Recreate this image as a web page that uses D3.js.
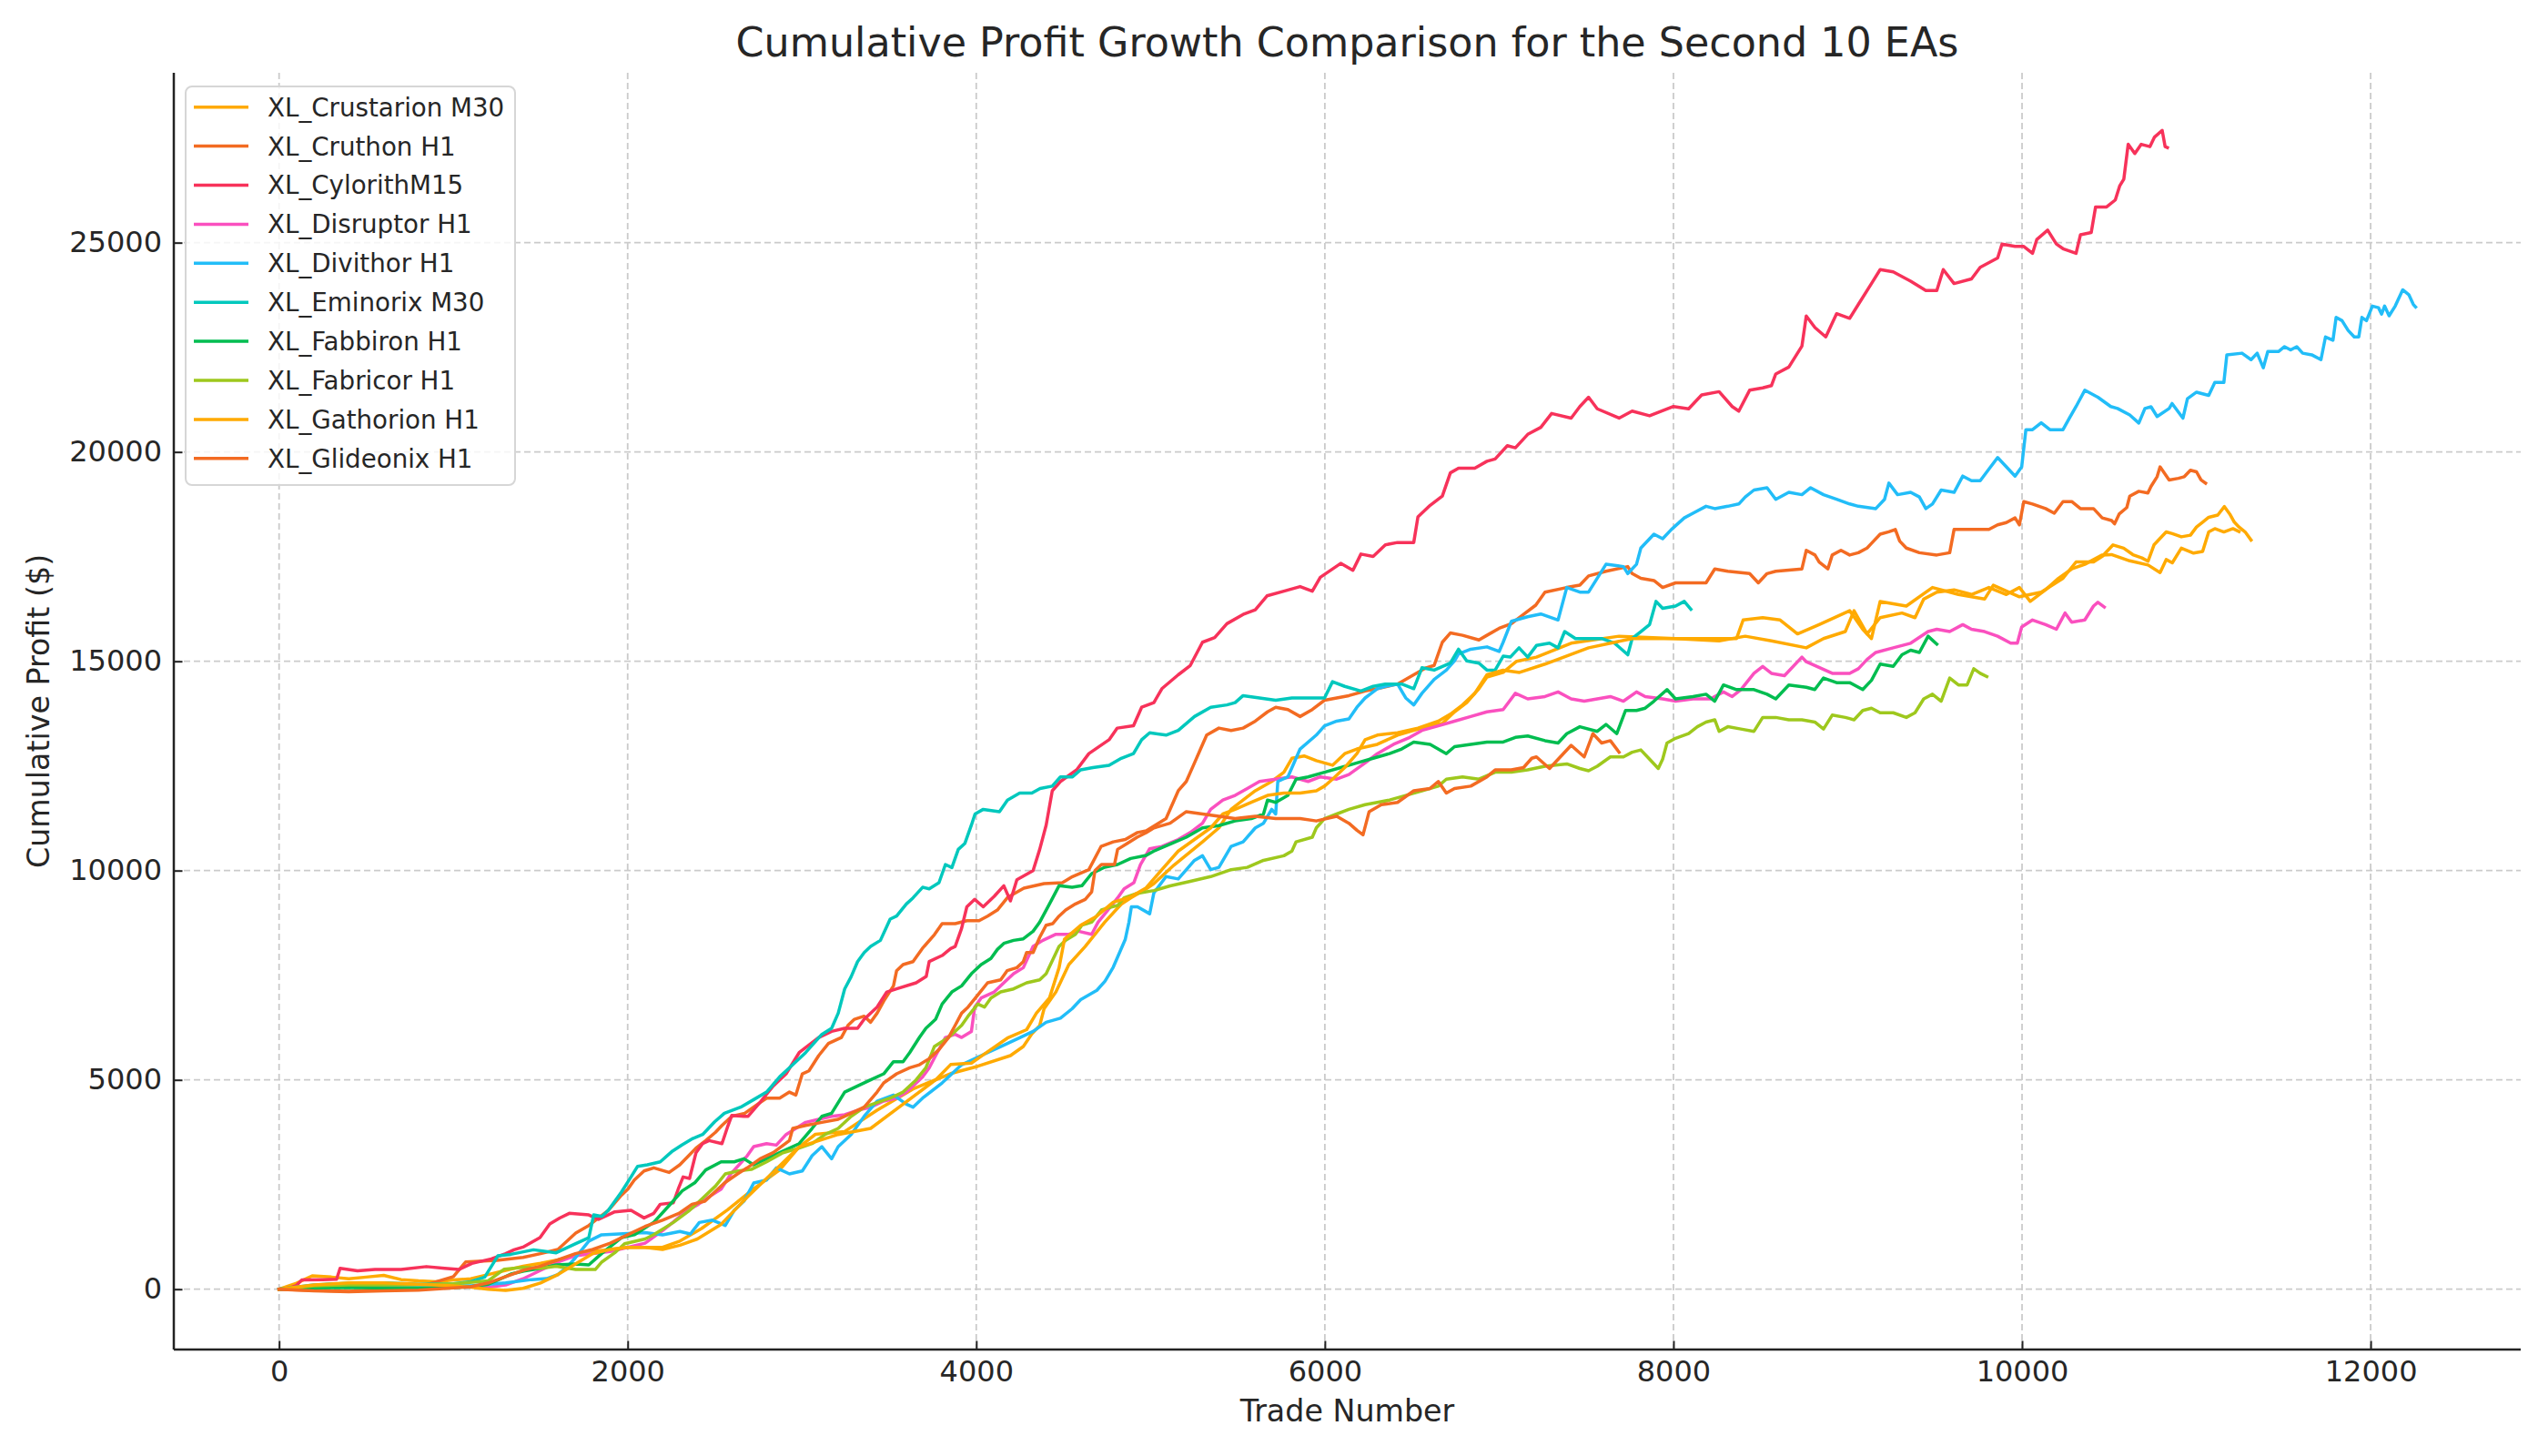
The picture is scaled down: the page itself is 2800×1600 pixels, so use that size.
<!DOCTYPE html>
<html><head><meta charset="utf-8">
<script src="https://cdn.jsdelivr.net/npm/d3@7"></script>
<style>html,body{margin:0;padding:0;background:#fff;} svg{display:block;font-family:"DejaVu Sans",sans-serif;}</style>
</head><body><svg id="chart" width="2800" height="1600"></svg>
<script>
const seriesNames = ["XL_Crustarion M30","XL_Cruthon H1","XL_CylorithM15","XL_Disruptor H1","XL_Divithor H1","XL_Eminorix M30","XL_Fabbiron H1","XL_Fabricor H1","XL_Gathorion H1","XL_Glideonix H1"];
const xTicks = [0,2000,4000,6000,8000,10000,12000];
const yTicks = [0,5000,10000,15000,20000,25000];

// [trade number, cumulative profit]
const crustarion = [[0,0],[100,145],[190,320],[300,290],[400,250],[500,290],[600,330],[700,230],[800,200],[900,180],[1000,220],[1100,250],[1200,350],[1300,450],[1400,550],[1500,620],[1600,700],[1700,800],[1800,900],[1900,950],[2000,1000],[2100,1000],[2200,1000],[2300,1150],[2424,1450],[2574,1900],[2723,2400],[2872,2850],[2984,3400],[3077,3700],[3245,3768],[3431,4275],[3637,4783],[3853,5150],[4009,5326],[4196,5580],[4270,5797],[4319,6100],[4364,6300],[4389,6700],[4457,7100],[4531,7754],[4625,8188],[4737,8768],[4832,9200],[4886,9348],[4975,9565],[5019,9690],[5135,10133],[5298,10687],[5392,11020],[5462,11463],[5531,11685],[5601,11907],[5695,12129],[5765,12350],[5811,12683],[5881,12739],[5951,12627],[6044,12517],[6114,12794],[6184,12905],[6301,13016],[6417,13237],[6510,13348],[6604,13459],[6674,13514],[6744,13792],[6814,14013],[6884,14346],[6930,14623],[7023,14734],[7100,15000],[7214,15100],[7413,15432],[7688,15599],[8012,15543],[8362,15543],[8400,15987],[8512,16042],[8612,15987],[8712,15654],[8836,15876],[9011,16208],[9086,15765],[9136,15543],[9186,16430],[9336,16319],[9486,16763],[9635,16596],[9785,16486],[9835,16818],[9985,16541],[10110,16652],[10235,16984],[10310,17373],[10410,17373],[10461,17508],[10522,17780],[10583,17702],[10636,17547],[10688,17469],[10723,17391],[10757,17780],[10827,18090],[10862,18051],[10914,17974],[10966,18012],[11001,18207],[11036,18323],[11071,18439],[11123,18494],[11161,18696],[11192,18517],[11218,18323],[11245,18207],[11280,18090],[11314,17896]];

const cruthon = [[0,0],[200,-30],[400,-50],[600,0],[800,50],[1000,300],[1070,650],[1250,690],[1400,760],[1500,850],[1600,950],[1702,1340],[1777,1522],[1889,1884],[1964,2246],[2001,2391],[2038,2609],[2094,2826],[2150,2899],[2238,2790],[2299,2971],[2392,3370],[2448,3551],[2504,3750],[2541,3913],[2597,4130],[2672,4203],[2746,4420],[2797,4565],[2872,4565],[2928,4710],[2965,4638],[3002,5145],[3040,5217],[3096,5580],[3152,5870],[3226,6014],[3264,6304],[3301,6449],[3357,6522],[3394,6377],[3431,6594],[3469,6884],[3525,7246],[3543,7609],[3580,7754],[3637,7826],[3690,8137],[3760,8470],[3804,8732],[3879,8732],[3946,8803],[4016,8803],[4065,8913],[4121,9058],[4179,9357],[4273,9579],[4389,9689],[4494,9710],[4552,9856],[4646,10022],[4716,10576],[4786,10687],[4855,10743],[4925,10909],[4975,10950],[5089,11242],[5159,11907],[5205,12129],[5252,12572],[5287,12905],[5322,13237],[5392,13404],[5462,13348],[5531,13404],[5601,13570],[5671,13792],[5718,13902],[5788,13847],[5858,13681],[5928,13847],[5998,14069],[6068,14124],[6138,14180],[6231,14290],[6301,14346],[6417,14457],[6510,14678],[6581,14845],[6627,14900],[6674,15455],[6720,15676],[6790,15621],[6884,15510],[6930,15621],[7000,15787],[7070,15898],[7140,16120],[7210,16341],[7263,16652],[7388,16763],[7463,16818],[7513,17040],[7613,17151],[7738,17262],[7763,17095],[7813,16984],[7888,16929],[7938,16763],[8012,16874],[8112,16874],[8187,16874],[8237,17206],[8312,17151],[8437,17095],[8487,16874],[8537,17095],[8587,17151],[8737,17206],[8762,17650],[8812,17539],[8836,17373],[8886,17206],[8911,17539],[8961,17650],[9011,17539],[9061,17594],[9111,17705],[9136,17816],[9186,18038],[9236,18093],[9273,18149],[9298,17871],[9336,17705],[9411,17594],[9511,17539],[9585,17594],[9610,18149],[9685,18149],[9810,18149],[9860,18260],[9910,18315],[9960,18426],[9985,18260],[10010,18814],[10060,18758],[10135,18647],[10185,18537],[10235,18814],[10285,18814],[10335,18647],[10410,18647],[10460,18426],[10514,18362],[10531,18284],[10557,18517],[10601,18672],[10618,18944],[10670,19061],[10722,19022],[10740,19177],[10775,19410],[10792,19643],[10818,19488],[10844,19332],[10897,19371],[10931,19410],[10966,19565],[11001,19526],[11027,19332],[11053,19255]];

const cylorith = [[0,0],[60,30],[100,90],[130,220],[250,230],[330,240],[350,500],[450,440],[550,470],[700,470],[845,540],[950,500],[1031,471],[1106,616],[1218,725],[1300,850],[1348,942],[1404,1014],[1497,1232],[1553,1558],[1610,1700],[1665,1812],[1777,1775],[1833,1667],[1926,1848],[2019,1884],[2094,1703],[2150,1812],[2187,2029],[2262,2065],[2290,2391],[2318,2681],[2355,2645],[2392,3261],[2430,3478],[2467,3551],[2541,3478],[2575,3900],[2597,4150],[2667,4130],[2691,4130],[2765,4493],[2835,4855],[2909,5145],[2984,5652],[3096,6014],[3170,6159],[3245,6232],[3319,6232],[3357,6449],[3431,6739],[3487,7101],[3543,7174],[3655,7319],[3713,7472],[3730,7826],[3804,7971],[3853,8137],[3879,8188],[3916,8623],[3946,9135],[3991,9312],[4040,9135],[4103,9384],[4158,9638],[4196,9275],[4233,9783],[4326,10000],[4364,10507],[4401,11087],[4436,11907],[4483,12129],[4576,12406],[4646,12794],[4762,13126],[4809,13404],[4902,13459],[4949,13902],[5019,14013],[5065,14346],[5159,14678],[5228,14900],[5298,15455],[5368,15565],[5438,15898],[5531,16120],[5601,16231],[5668,16563],[5765,16674],[5858,16785],[5928,16674],[5974,17007],[6091,17339],[6161,17173],[6207,17561],[6277,17506],[6347,17783],[6417,17838],[6510,17838],[6534,18448],[6604,18725],[6674,18947],[6720,19501],[6767,19612],[6860,19612],[6930,19778],[6977,19834],[7047,20150],[7093,20100],[7164,20421],[7239,20588],[7301,20920],[7413,20809],[7463,21086],[7513,21308],[7563,21031],[7688,20809],[7763,20976],[7863,20865],[8000,21086],[8087,21031],[8162,21364],[8262,21441],[8337,21086],[8375,20976],[8437,21475],[8512,21530],[8562,21585],[8587,21863],[8662,22029],[8737,22528],[8762,23248],[8812,22971],[8874,22749],[8936,23304],[9011,23193],[9061,23525],[9136,24024],[9186,24357],[9261,24302],[9361,24080],[9448,23858],[9511,23858],[9548,24357],[9610,24024],[9710,24135],[9760,24412],[9860,24634],[9885,24967],[9960,24911],[10010,24911],[10060,24745],[10085,25078],[10147,25299],[10197,24967],[10235,24856],[10310,24745],[10335,25188],[10397,25244],[10422,25854],[10485,25854],[10535,26020],[10560,26353],[10584,26519],[10609,27350],[10647,27129],[10684,27350],[10734,27295],[10759,27517],[10804,27683],[10821,27295],[10834,27273]];

const disruptor = [[0,0],[200,50],[400,80],[600,60],[800,30],[1000,60],[1200,50],[1300,100],[1400,250],[1500,450],[1600,650],[1700,800],[1800,850],[1900,900],[2000,1000],[2100,1100],[2200,1400],[2260,1600],[2331,1850],[2406,2029],[2480,2246],[2536,2391],[2592,2754],[2686,3188],[2723,3406],[2797,3478],[2853,3442],[2909,3696],[3021,3986],[3096,4058],[3170,4130],[3245,4167],[3319,4275],[3394,4348],[3469,4493],[3543,4565],[3599,4710],[3637,4855],[3692,5072],[3730,5290],[3767,5580],[3823,6014],[3879,6087],[3916,6014],[3972,6159],[3991,6739],[4028,6957],[4103,7101],[4158,7319],[4214,7536],[4270,7681],[4326,8188],[4382,8333],[4457,8478],[4531,8478],[4587,8551],[4662,8478],[4699,8768],[4755,9058],[4811,9348],[4848,9565],[4904,9710],[4942,10145],[4995,10521],[5065,10576],[5159,10743],[5228,10909],[5298,11131],[5345,11463],[5415,11685],[5485,11796],[5555,11962],[5625,12129],[5718,12184],[5811,12239],[5904,12129],[5974,12239],[6068,12184],[6138,12295],[6231,12572],[6301,12794],[6394,13016],[6487,13182],[6557,13348],[6651,13459],[6744,13570],[6837,13681],[6930,13792],[7023,13847],[7093,14235],[7164,14102],[7263,14157],[7338,14268],[7413,14102],[7488,14047],[7563,14102],[7638,14157],[7713,14047],[7788,14268],[7838,14157],[7938,14102],[8012,14047],[8112,14102],[8212,14102],[8287,14268],[8337,14157],[8387,14324],[8462,14712],[8512,14878],[8562,14712],[8637,14656],[8737,15100],[8762,14989],[8911,14712],[9011,14712],[9061,14823],[9111,15044],[9161,15211],[9261,15322],[9361,15432],[9461,15710],[9511,15765],[9585,15710],[9660,15876],[9710,15765],[9785,15710],[9860,15599],[9935,15432],[9973,15432],[9998,15820],[10060,15987],[10135,15876],[10197,15765],[10247,16153],[10285,15932],[10360,15987],[10410,16319],[10435,16408],[10472,16297]];

const divithor = [[0,0],[150,50],[300,130],[500,110],[700,100],[900,90],[1100,80],[1300,150],[1450,230],[1535,254],[1600,350],[1646,507],[1700,750],[1777,1150],[1850,1300],[2000,1330],[2100,1350],[2200,1300],[2300,1380],[2360,1320],[2411,1594],[2486,1650],[2560,1522],[2611,1884],[2667,2101],[2723,2536],[2797,2609],[2853,2899],[2928,2754],[3002,2826],[3058,3188],[3114,3406],[3170,3116],[3208,3406],[3282,3696],[3357,4130],[3431,4493],[3525,4638],[3599,4420],[3637,4348],[3692,4565],[3804,4928],[3916,5362],[4028,5580],[4140,5797],[4252,6014],[4326,6159],[4401,6377],[4483,6475],[4550,6700],[4599,6918],[4692,7140],[4739,7361],[4786,7694],[4855,8359],[4876,8768],[4890,9135],[4925,9135],[4995,8969],[5019,9468],[5089,9856],[5159,9800],[5252,10244],[5298,10355],[5345,10022],[5392,10078],[5462,10576],[5531,10687],[5601,11020],[5648,11131],[5695,11463],[5718,11352],[5730,12129],[5788,12239],[5858,12905],[5951,13237],[5998,13459],[6068,13570],[6138,13625],[6184,13902],[6231,14124],[6301,14346],[6347,14401],[6417,14457],[6464,14124],[6510,13958],[6557,14235],[6627,14568],[6697,14789],[6744,15011],[6767,15177],[6837,15288],[6930,15344],[7000,15233],[7023,15455],[7070,15954],[7163,16064],[7239,16130],[7338,15987],[7388,16763],[7463,16652],[7513,16652],[7563,16984],[7613,17317],[7713,17262],[7738,17095],[7788,17317],[7813,17705],[7888,18038],[7938,17927],[7988,18149],[8062,18426],[8112,18537],[8187,18703],[8237,18647],[8312,18703],[8375,18758],[8412,18925],[8462,19091],[8537,19146],[8587,18869],[8662,19035],[8737,18980],[8787,19146],[8861,18980],[8936,18869],[9011,18758],[9061,18703],[9161,18647],[9211,18869],[9236,19257],[9286,18980],[9361,19035],[9411,18925],[9448,18647],[9486,18758],[9536,19091],[9610,19035],[9660,19424],[9710,19313],[9760,19313],[9810,19590],[9860,19867],[9910,19645],[9960,19424],[9998,19645],[10022,20532],[10060,20532],[10110,20698],[10160,20532],[10235,20532],[10272,20809],[10310,21086],[10360,21475],[10435,21308],[10509,21086],[10548,21040],[10618,20885],[10670,20691],[10705,21040],[10740,21079],[10775,20846],[10844,21040],[10861,21157],[10923,20807],[10949,21273],[11001,21429],[11071,21351],[11106,21661],[11158,21661],[11175,22321],[11262,22360],[11314,22205],[11349,22360],[11384,22011],[11410,22399],[11471,22399],[11506,22516],[11541,22438],[11576,22516],[11610,22360],[11662,22321],[11715,22205],[11741,22748],[11784,22671],[11802,23214],[11836,23137],[11871,22904],[11906,22748],[11932,22748],[11950,23214],[11976,23137],[12010,23486],[12045,23447],[12063,23292],[12080,23486],[12106,23253],[12141,23486],[12184,23874],[12219,23758],[12245,23525],[12258,23463]];

const eminorix = [[0,0],[200,100],[400,140],[600,150],[800,120],[1000,130],[1100,180],[1180,290],[1255,797],[1330,833],[1460,942],[1590,870],[1702,1087],[1777,1232],[1805,1775],[1852,1740],[1889,1884],[1964,2319],[2019,2681],[2057,2935],[2113,2971],[2187,3043],[2257,3300],[2313,3450],[2374,3600],[2430,3696],[2499,4000],[2555,4203],[2648,4348],[2723,4529],[2797,4710],[2872,5072],[2947,5362],[3021,5652],[3114,6087],[3170,6232],[3208,6594],[3245,7174],[3282,7464],[3319,7826],[3357,8043],[3394,8188],[3450,8333],[3506,8841],[3543,8913],[3599,9203],[3637,9348],[3692,9601],[3730,9565],[3786,9710],[3823,10145],[3860,10072],[3897,10507],[3935,10652],[3972,11087],[3993,11353],[4040,11463],[4133,11408],[4179,11685],[4249,11851],[4319,11851],[4366,11962],[4436,12018],[4483,12239],[4552,12239],[4599,12406],[4669,12461],[4762,12517],[4832,12683],[4902,12794],[4949,13126],[4995,13293],[5089,13237],[5159,13348],[5252,13681],[5345,13902],[5438,13958],[5485,14013],[5531,14180],[5625,14124],[5718,14069],[5811,14124],[5904,14124],[5998,14124],[6044,14512],[6114,14401],[6207,14290],[6277,14401],[6347,14457],[6441,14457],[6510,14346],[6557,14845],[6627,14789],[6720,14956],[6767,15288],[6814,15011],[6884,14956],[6930,14789],[6977,14789],[7023,15122],[7064,15100],[7114,15322],[7164,15100],[7214,15377],[7289,15432],[7338,15322],[7376,15710],[7438,15543],[7588,15543],[7663,15432],[7738,15155],[7763,15543],[7813,15710],[7863,15876],[7900,16430],[7938,16264],[8012,16319],[8062,16430],[8100,16242]];

const fabbiron = [[0,0],[200,30],[400,40],[600,30],[800,20],[1000,40],[1100,60],[1200,120],[1255,217],[1330,362],[1404,435],[1500,500],[1590,580],[1700,600],[1777,580],[1850,850],[1964,1232],[2038,1300],[2150,1600],[2238,2000],[2313,2350],[2387,2550],[2448,2850],[2536,3043],[2611,3043],[2667,3116],[2723,2971],[2797,3116],[2872,3261],[2984,3478],[3058,3841],[3114,4130],[3170,4203],[3245,4710],[3319,4855],[3394,5000],[3469,5145],[3525,5435],[3580,5435],[3618,5652],[3674,6014],[3711,6232],[3767,6449],[3804,6812],[3860,7101],[3916,7246],[3972,7536],[4028,7754],[4084,7899],[4121,8116],[4158,8261],[4214,8333],[4270,8370],[4326,8550],[4364,8768],[4420,9203],[4475,9638],[4550,9600],[4606,9638],[4662,9928],[4737,10080],[4811,10145],[4886,10290],[4975,10362],[5019,10466],[5112,10632],[5205,10798],[5298,11020],[5392,11075],[5485,11186],[5578,11242],[5648,11352],[5671,11685],[5718,11630],[5788,11796],[5835,12184],[5904,12239],[5998,12350],[6091,12461],[6184,12572],[6277,12683],[6371,12794],[6441,12905],[6510,13071],[6604,13016],[6697,12794],[6744,12960],[6837,13016],[6930,13071],[7023,13071],[7093,13182],[7164,13215],[7263,13104],[7338,13049],[7388,13271],[7463,13437],[7563,13326],[7613,13493],[7675,13271],[7725,13825],[7788,13825],[7838,13880],[7888,14047],[7963,14324],[8012,14102],[8112,14157],[8187,14213],[8237,14047],[8287,14435],[8362,14324],[8462,14324],[8537,14213],[8587,14102],[8662,14435],[8762,14379],[8811,14324],[8861,14601],[8936,14490],[9011,14490],[9086,14324],[9136,14546],[9186,14933],[9261,14878],[9311,15155],[9361,15266],[9411,15211],[9461,15599],[9511,15410]];

const fabricor = [[0,0],[200,80],[400,100],[600,100],[800,110],[1000,130],[1200,200],[1292,480],[1400,520],[1500,500],[1590,550],[1702,471],[1814,471],[1852,652],[1926,870],[1982,1087],[2100,1200],[2150,1304],[2262,1594],[2355,1884],[2430,2174],[2504,2464],[2560,2754],[2634,2826],[2709,2862],[2797,3043],[2891,3261],[2984,3370],[3058,3478],[3133,3696],[3208,3841],[3282,4130],[3357,4348],[3431,4457],[3506,4565],[3580,4710],[3655,5000],[3711,5290],[3760,5800],[3841,6014],[3916,6304],[3953,6522],[4009,6812],[4047,6739],[4084,6957],[4140,7101],[4214,7174],[4289,7319],[4364,7391],[4401,7536],[4438,7862],[4475,8188],[4513,8333],[4569,8478],[4606,8696],[4662,8768],[4718,9058],[4774,9130],[4811,9167],[4848,9348],[4923,9457],[5019,9523],[5112,9634],[5228,9745],[5345,9856],[5462,10022],[5555,10078],[5648,10244],[5765,10355],[5811,10466],[5835,10687],[5928,10798],[5951,11020],[5998,11242],[6068,11352],[6138,11463],[6231,11574],[6301,11630],[6371,11685],[6464,11796],[6557,11907],[6651,12018],[6697,12184],[6790,12239],[6884,12184],[6977,12350],[7070,12350],[7163,12406],[7263,12494],[7388,12550],[7463,12439],[7513,12384],[7563,12494],[7638,12716],[7713,12716],[7763,12827],[7813,12882],[7863,12661],[7913,12439],[7938,12661],[7963,13049],[8012,13160],[8087,13271],[8137,13437],[8187,13548],[8237,13603],[8262,13326],[8312,13437],[8387,13382],[8462,13326],[8512,13659],[8587,13659],[8662,13603],[8737,13603],[8811,13548],[8861,13382],[8911,13714],[8986,13659],[9036,13603],[9086,13825],[9136,13880],[9186,13770],[9261,13770],[9336,13659],[9386,13770],[9436,14102],[9486,14213],[9536,14047],[9585,14601],[9635,14435],[9685,14435],[9723,14823],[9760,14712],[9798,14634]];

const gathorion = [[0,0],[200,100],[400,150],[600,150],[800,120],[1000,80],[1100,50],[1200,0],[1300,-30],[1400,20],[1500,150],[1600,350],[1700,600],[1800,850],[1900,950],[2000,1000],[2100,1000],[2200,950],[2300,1050],[2400,1200],[2536,1550],[2686,2200],[2835,2800],[2984,3400],[3208,3696],[3394,3841],[3580,4420],[3767,5000],[3853,5366],[3972,5400],[4040,5600],[4179,6000],[4289,6200],[4345,6594],[4420,6957],[4475,7681],[4506,8359],[4599,8692],[4692,8914],[4786,9246],[4879,9357],[4972,9579],[5065,10022],[5159,10466],[5252,10743],[5345,11020],[5415,11352],[5485,11463],[5578,11630],[5671,11796],[5765,11851],[5858,11851],[5951,11907],[5998,12018],[6044,12184],[6114,12461],[6184,12794],[6231,13126],[6301,13237],[6417,13293],[6534,13404],[6651,13570],[6720,13736],[6790,13958],[6860,14235],[6930,14678],[7023,14789],[7117,14734],[7263,14933],[7513,15322],[7763,15543],[8012,15543],[8262,15488],[8412,15599],[8562,15488],[8762,15322],[8861,15543],[8986,15710],[9036,16208],[9111,15654],[9186,16042],[9311,16153],[9386,16042],[9436,16486],[9511,16652],[9610,16707],[9710,16596],[9810,16763],[9910,16596],[9985,16763],[10047,16430],[10135,16707],[10210,16984],[10285,17206],[10360,17317],[10460,17539],[10513,17550],[10618,17400],[10723,17300],[10792,17120],[10827,17430],[10862,17352],[10914,17702],[10984,17585],[11036,17624],[11071,18090],[11106,18168],[11158,18090],[11210,18168],[11245,18100]];

const glideonix = [[0,0],[200,-40],[400,-60],[600,-40],[800,-20],[1000,30],[1100,60],[1200,150],[1300,300],[1400,450],[1500,550],[1600,700],[1700,850],[1800,950],[1900,1100],[2000,1300],[2100,1500],[2200,1650],[2294,1812],[2369,2029],[2443,2101],[2499,2319],[2555,2536],[2630,2754],[2686,2899],[2760,3116],[2835,3261],[2928,3551],[2947,3841],[3021,3913],[3114,3986],[3208,4058],[3282,4203],[3357,4348],[3431,4710],[3469,4928],[3543,5145],[3618,5290],[3674,5362],[3730,5507],[3786,5725],[3841,6014],[3879,6304],[3916,6594],[3953,6739],[4009,7029],[4065,7319],[4140,7391],[4177,7609],[4233,7681],[4270,7826],[4289,8043],[4326,8043],[4364,8406],[4401,8696],[4438,8732],[4475,8913],[4513,9058],[4569,9203],[4625,9312],[4662,9493],[4681,10000],[4718,10145],[4793,10145],[4811,10507],[4867,10652],[4923,10797],[4975,10906],[5019,11020],[5112,11131],[5205,11408],[5298,11352],[5392,11297],[5485,11242],[5601,11297],[5718,11242],[5858,11242],[5951,11186],[6068,11297],[6138,11131],[6184,10965],[6219,10854],[6254,11408],[6324,11574],[6417,11630],[6510,11907],[6604,11962],[6651,12129],[6697,11851],[6744,11962],[6837,12018],[6930,12239],[6977,12406],[7070,12406],[7140,12461],[7187,12683],[7214,12716],[7289,12439],[7413,12993],[7488,12716],[7538,13271],[7588,13049],[7638,13104],[7688,12827]];

const seriesData = [crustarion, cruthon, cylorith, disruptor, divithor, eminorix, fabbiron, fabricor, gathorion, glideonix];
const colors = ["#ffaa00","#f36b22","#f7325a","#fa50bf","#22bdf8","#00c8bd","#00bd50","#9ec81d","#ffaa00","#f36b22"];

const svg = d3.select("#chart");
svg.append("rect").attr("width",2800).attr("height",1600).attr("fill","#fff");

const M = {left:191, right:2770, top:80, bottom:1483};
const x = d3.scaleLinear().domain([-604, 12861]).range([M.left, M.right]);
const y = d3.scaleLinear().domain([-1441, 29058]).range([M.bottom, M.top]);

// grid
const grid = svg.append("g");
grid.selectAll("line.vx").data(xTicks).enter().append("line")
  .attr("x1", d=>x(d)).attr("x2", d=>x(d)).attr("y1", M.top).attr("y2", M.bottom)
  .attr("stroke","#cbcbcb").attr("stroke-width",1.8).attr("stroke-dasharray","7,4");
grid.selectAll("line.hy").data(yTicks).enter().append("line")
  .attr("x1", M.left).attr("x2", M.right).attr("y1", d=>y(d)).attr("y2", d=>y(d))
  .attr("stroke","#cbcbcb").attr("stroke-width",1.8).attr("stroke-dasharray","7,4");

// lines
const line = d3.line().x(d=>x(d[0])).y(d=>y(d[1]));
const plot = svg.append("g");
seriesData.forEach((s,i)=>{
  plot.append("path").datum(s).attr("d", line).attr("fill","none")
    .attr("stroke", colors[i]).attr("stroke-width",3.5)
    .attr("stroke-linejoin","round").attr("stroke-linecap","square");
});

// axes
const xAxis = d3.axisBottom(x).tickValues(xTicks).tickFormat(d3.format("d"))
  .tickSizeInner(-9.5).tickSizeOuter(0).tickPadding(12);
const yAxis = d3.axisLeft(y).tickValues(yTicks).tickFormat(d3.format("d"))
  .tickSizeInner(-9.5).tickSizeOuter(0).tickPadding(13);
const gx = svg.append("g").attr("transform",`translate(0,${M.bottom})`).call(xAxis);
const gy = svg.append("g").attr("transform",`translate(${M.left},0)`).call(yAxis);
[gx,gy].forEach(g=>{
  g.select(".domain").attr("stroke","#222").attr("stroke-width",2.5);
  g.selectAll(".tick line").attr("stroke","#222").attr("stroke-width",2);
  g.selectAll(".tick text").attr("fill","#262626").attr("font-size",32)
    .attr("font-family","DejaVu Sans");
});
// extend x domain line across full width
gx.select(".domain").attr("d",`M${M.left},0H${M.right}`);
gy.select(".domain").attr("d",`M0,${M.bottom}V${M.top}`);

// labels
svg.append("text").attr("x",(M.left+M.right)/2).attr("y",62).attr("text-anchor","middle")
  .attr("font-size",44.4).attr("fill","#262626").text("Cumulative Profit Growth Comparison for the Second 10 EAs");
svg.append("text").attr("x",(M.left+M.right)/2).attr("y",1562).attr("text-anchor","middle")
  .attr("font-size",33.3).attr("fill","#262626").text("Trade Number");
svg.append("text").attr("transform",`translate(54,${(M.top+M.bottom)/2}) rotate(-90)`).attr("text-anchor","middle")
  .attr("font-size",33.3).attr("fill","#262626").text("Cumulative Profit ($)");

// legend
const lg = svg.append("g");
lg.append("rect").attr("x",204).attr("y",95).attr("width",362).attr("height",438).attr("rx",7)
  .attr("fill","#fff").attr("fill-opacity",0.8).attr("stroke","#d6d6d6").attr("stroke-width",2);
seriesNames.forEach((n,i)=>{
  const cy = 117.7 + i*42.9;
  lg.append("line").attr("x1",213).attr("x2",273).attr("y1",cy).attr("y2",cy)
    .attr("stroke",colors[i]).attr("stroke-width",3.5);
  lg.append("text").attr("x",294).attr("y",cy).attr("dy","0.36em").attr("font-size",27.7)
    .attr("fill","#262626").text(n);
});
</script></body></html>
